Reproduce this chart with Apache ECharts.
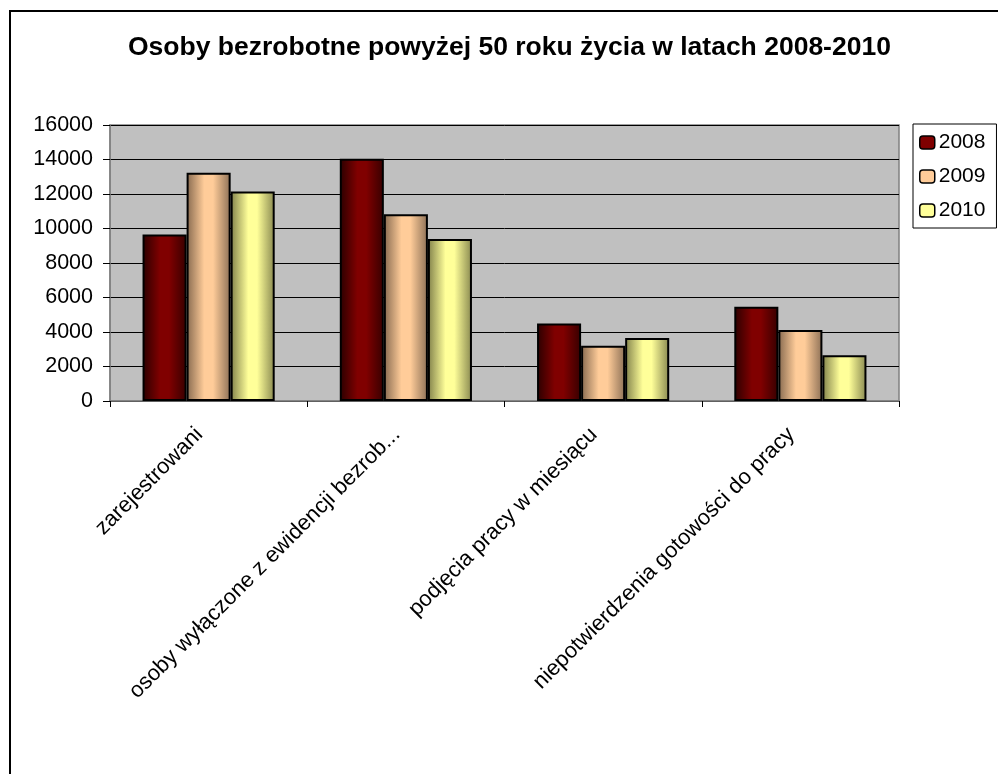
<!DOCTYPE html>
<html>
<head>
<meta charset="utf-8">
<script src="https://cdn.jsdelivr.net/npm/echarts@6/dist/echarts.min.js"></script>
<style>
html,body{margin:0;padding:0;background:#fff;}
#c{width:998px;height:774px;}
</style>
</head>
<body>
<div id="c"></div>
<script>
const categories = ['zarejestrowani', 'osoby wyłączone z ewidencji bezrob...', 'podjęcia pracy w miesiącu', 'niepotwierdzenia gotowości do pracy'];
const years = ['2008', '2009', '2010'];
const values2008 = [9650, 14050, 4500, 5470];
const values2009 = [13230, 10820, 3200, 4120];
const values2010 = [12150, 9390, 3650, 2650];
const yTicks = { min: 0, max: 16000, interval: 2000 };

const FONT = '"Liberation Sans", Arial, sans-serif';
function grad(dark, light, dark2) {
  return new echarts.graphic.LinearGradient(0, 0, 1, 0, [
    { offset: 0, color: dark },
    { offset: 0.4, color: light },
    { offset: 0.6, color: light },
    { offset: 1, color: dark2 }
  ]);
}
const fills = [
  grad('#2a0000', '#800000', '#360000'),
  grad('#86694f', '#ffcc99', '#8c7056'),
  grad('#80804a', '#ffff99', '#888850')
];
const legendColors = ['#800000', '#ffcc99', '#ffff99'];
const seriesData = [values2008, values2009, values2010];

const chart = echarts.init(document.getElementById('c'), null, { renderer: 'canvas' });
chart.setOption({
  animation: false,
  backgroundColor: '#ffffff',
  title: {
    text: 'Osoby bezrobotne powyżej 50 roku życia w latach 2008-2010',
    left: 128,
    top: 34,
    padding: 0,
    textStyle: { fontFamily: FONT, fontSize: 26.5, fontWeight: 'bold', color: '#000' }
  },
  graphic: [{
    type: 'rect',
    shape: { x: 10, y: 11, width: 1100, height: 900 },
    style: { fill: 'none', stroke: '#000', lineWidth: 2 },
    silent: true,
    z: -10
  }],
  legend: {
    orient: 'vertical',
    left: 913,
    top: 124,
    padding: [8, 11, 7, 6],
    itemGap: 13,
    itemWidth: 15,
    itemHeight: 13,
    borderColor: '#000',
    borderWidth: 1,
    backgroundColor: '#fff',
    textStyle: { fontFamily: FONT, fontSize: 21, color: '#000', lineHeight: 21, padding: [0, 0, 0, -1] },
    data: years.map((y, i) => ({
      name: y,
      itemStyle: { color: legendColors[i], borderColor: '#000', borderWidth: 1.5 }
    }))
  },
  grid: {
    left: 110, top: 125, right: 99, bottom: 373,
    show: true,
    backgroundColor: '#c0c0c0',
    borderColor: '#808080',
    borderWidth: 1.5
  },
  xAxis: {
    type: 'category',
    data: categories,
    axisLine: { lineStyle: { color: '#808080', width: 1.5 } },
    axisTick: { show: true, length: 6, lineStyle: { color: '#000' } },
    axisLabel: {
      rotate: 45,
      interval: 0,
      margin: 21,
      padding: [0, 13, 0, 0],
      fontFamily: FONT,
      fontSize: 22,
      color: '#000'
    }
  },
  yAxis: {
    type: 'value',
    min: yTicks.min,
    max: yTicks.max,
    interval: yTicks.interval,
    axisLine: { show: true, lineStyle: { color: '#808080', width: 1.5 } },
    axisTick: { show: true, length: 7, lineStyle: { color: '#000' } },
    splitLine: { lineStyle: { color: '#000', width: 1 } },
    axisLabel: {
      margin: 17, fontFamily: FONT, fontSize: 21.5, color: '#000',
      formatter: v => String(v)
    }
  },
  series: years.map((y, i) => ({
    name: y,
    type: 'bar',
    data: seriesData[i],
    barGap: '0%',
    barCategoryGap: '33%',
    itemStyle: { color: fills[i], borderColor: '#000', borderWidth: 2 }
  }))
});
</script>
</body>
</html>
